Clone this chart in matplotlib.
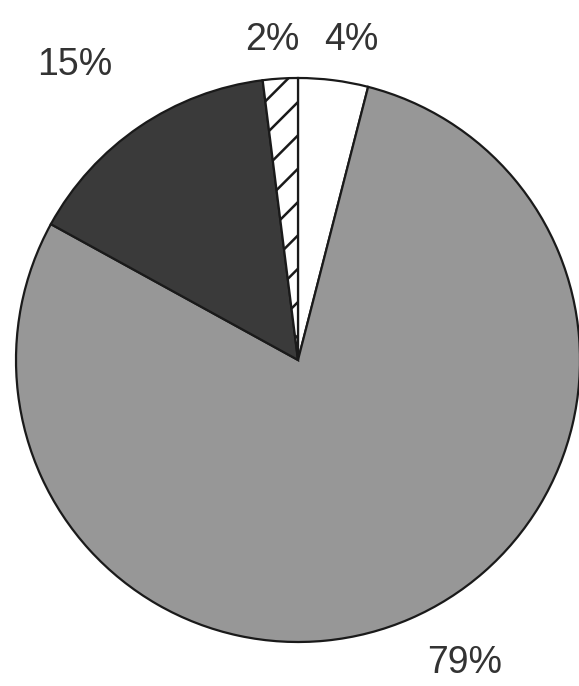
import matplotlib
matplotlib.use("Agg")
import matplotlib.pyplot as plt

# data (clockwise from 12 o'clock)
labels = ["4%", "79%", "15%", "2%"]
values = [4, 79, 15, 2]
colors = ["#ffffff", "#979797", "#3a3a3a", "#ffffff"]
hatches = [None, None, None, "/"]

# label placement (pixel coords, top-left origin)
label_pos = [(351, 40), (465, 663), (75, 65), (272, 40)]

plt.rcParams["hatch.linewidth"] = 1.8
plt.rcParams["hatch.color"] = "#222222"

W, H = 579, 686
fig = plt.figure(figsize=(W / 100, H / 100), dpi=100)
ax = fig.add_axes([0, 0, 1, 1])

cx, cy, r = 298, H - 360, 282
wedges, _ = ax.pie(values, colors=colors, startangle=90, counterclock=False,
                   center=(cx, cy), radius=r, frame=True, hatch=hatches,
                   wedgeprops=dict(edgecolor="#1a1a1a", linewidth=1.6))
ax.set_xlim(0, W)
ax.set_ylim(0, H)
ax.set_aspect("equal")
ax.axis("off")

for lab, (x, y) in zip(labels, label_pos):
    ax.text(x, H - y, lab, ha="center", va="center", fontsize=27,
            family="Liberation Sans", color="#333333")

fig.savefig("out.png", dpi=100)
